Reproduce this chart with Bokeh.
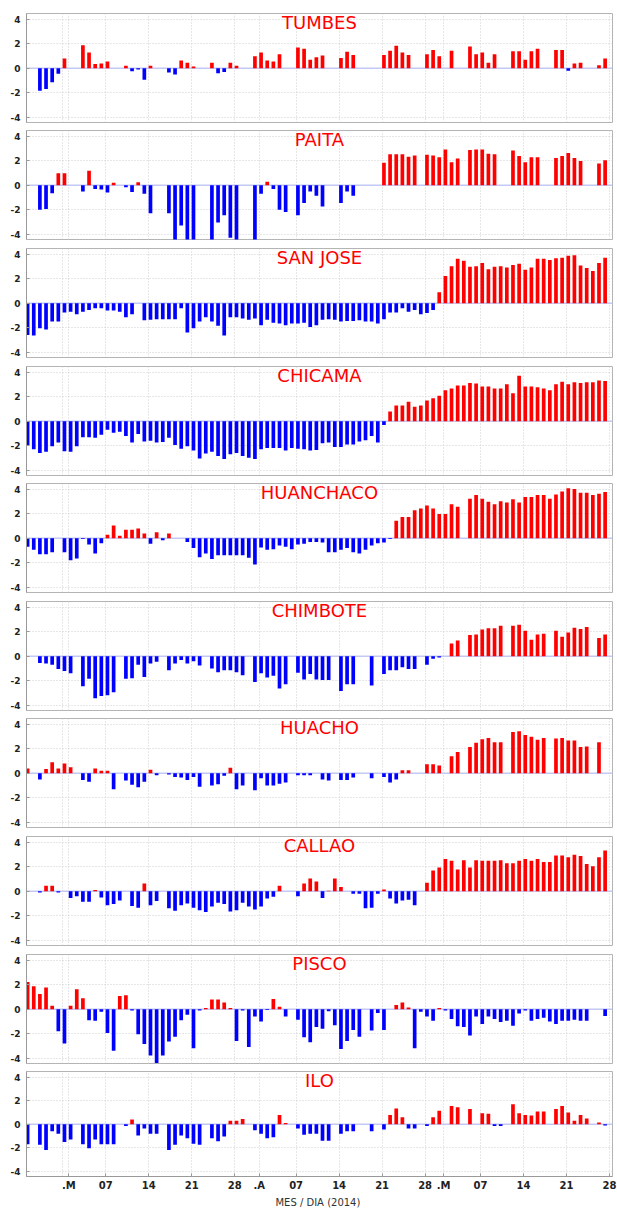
from bokeh.plotting import figure
from bokeh.layouts import column
from bokeh.models import FixedTicker, Span, Label, ColumnDataSource, Range1d
from bokeh.embed import file_html
from bokeh.resources import INLINE

# day offset from 2014-03-01 (Feb 22 .. May 27), one value per day
days = list(range(-7, 88))
N = None

stations = ["TUMBES", "PAITA", "SAN JOSE", "CHICAMA", "HUANCHACO",
            "CHIMBOTE", "HUACHO", "CALLAO", "PISCO", "ILO"]

tumbes = [N, N, -1.85, -1.7, -1.15, -0.45, 0.8, N, N, 1.9,
          1.3, 0.35, 0.4, 0.55, N, N, 0.2, -0.25, -0.1, -0.95,
          0.2, N, N, -0.35, -0.5, 0.65, 0.45, 0.15, N, N,
          0.45, -0.4, -0.3, 0.45, 0.2, N, N, 1.0, 1.3, 0.65,
          0.55, 1.15, N, N, 1.7, 1.6, 0.7, 0.9, 1.05, N,
          N, 0.85, 1.35, 1.1, N, N, N, N, 1.1, 1.45,
          1.85, 1.3, 1.1, N, N, 1.15, 1.5, 1.0, N, 1.45,
          N, N, 1.8, 1.15, 1.3, 0.45, 1.15, N, N, 1.4,
          1.4, 0.7, 1.4, 1.6, N, N, 1.5, 1.5, -0.2, 0.4,
          0.45, N, N, 0.25, 0.8]

paita = [N, N, -2.0, -1.95, -0.65, 1.0, 1.0, N, N, -0.5,
         1.2, -0.3, -0.35, -0.6, 0.2, N, -0.15, -0.55, 0.25, -0.7,
         -2.3, N, N, -2.3, -4.8, -3.3, -4.8, -4.8, N, N,
         -4.8, -3.05, -2.45, -4.3, -4.8, N, N, -4.8, -0.7, 0.3,
         -0.3, -2.0, -2.2, N, -2.45, -1.45, -0.5, -0.85, -1.75, N,
         N, -1.45, -0.5, -0.85, N, N, N, N, 1.85, 2.55,
         2.55, 2.55, 2.35, 2.45, N, 2.5, 2.45, 2.3, 2.95, 1.9,
         2.2, N, 2.9, 2.95, 2.95, 2.6, 2.55, N, N, 2.85,
         2.4, 1.9, 2.3, 2.3, N, N, 2.25, 2.4, 2.65, 2.25,
         2.0, N, N, 1.8, 2.05]

san_jose = [-2.6, -2.65, -2.05, -2.15, -1.5, -1.5, -0.75, -0.7, -0.9, -0.7,
            -0.55, -0.4, -0.4, -0.6, -0.6, -0.7, -1.15, -0.9, N, -1.4,
            -1.35, -1.3, -1.3, -1.3, -1.3, -0.4, -2.4, -2.05, -1.5, -1.15,
            -1.5, -1.85, -2.65, -1.15, -1.15, -1.25, -1.35, -1.25, -1.8, -1.35,
            -1.6, -1.65, -1.8, -1.65, -1.65, -1.6, -1.95, -1.8, -1.35, -1.3,
            -1.35, -1.5, -1.45, -1.45, -1.4, -1.5, -1.5, -1.65, -1.3, -0.75,
            -0.75, -0.4, -0.7, -0.55, -0.9, -0.8, -0.55, 0.9, 2.25, 3.05,
            3.65, 3.5, 3.0, 3.05, 3.3, 2.8, 3.0, 3.05, 2.95, 3.15,
            3.25, 2.75, 2.95, 3.65, 3.65, 3.55, 3.7, 3.75, 3.9, 3.95,
            3.1, 2.9, 2.65, 3.3, 3.75]

chicama = [-1.95, -2.3, -2.6, -2.5, -2.05, -1.75, -2.45, -2.5, -2.05, -1.3,
           -1.3, -1.35, -1.1, -0.7, -0.95, -0.85, -1.2, -1.75, -1.05, -1.65,
           -1.6, -1.75, -1.7, -1.35, -1.95, -2.25, -2.05, -2.4, -3.05, -2.65,
           -2.5, -2.85, -3.1, -2.7, -2.6, -2.85, -3.0, -3.1, -2.3, -2.2,
           -2.2, -2.2, -2.4, -2.2, -2.25, -2.3, -2.4, -2.35, -1.8, -1.75,
           -2.1, -2.1, -1.9, -1.9, -1.65, -1.55, -1.2, -1.75, -0.3, 0.8,
           1.3, 1.3, 1.6, 1.2, 1.3, 1.7, 1.9, 2.1, 2.55, 2.7,
           2.95, 2.95, 3.15, 3.1, 2.85, 2.85, 2.7, 2.7, 3.05, 2.3,
           3.75, 2.85, 2.85, 2.8, 2.7, 2.55, 3.05, 3.25, 3.05, 3.2,
           3.15, 3.2, 3.2, 3.35, 3.3]

huanchaco = [-0.7, -0.95, -1.3, -1.3, -1.15, N, -1.15, -1.8, -1.65, -0.05,
             -0.5, -1.25, -0.4, 0.3, 1.05, 0.2, 0.7, 0.7, 0.8, 0.4,
             -0.45, 0.5, -0.15, 0.4, N, N, -0.3, -0.8, -1.55, -1.25,
             -1.7, -1.4, -1.4, -1.4, -1.4, -1.4, -1.6, -2.15, -0.75, -0.95,
             -0.9, -0.6, -0.7, -0.9, -0.5, -0.45, -0.3, -0.3, -0.35, -1.15,
             -1.15, -0.95, -0.8, -1.15, -1.25, -0.95, -0.6, -0.4, -0.35, -0.05,
             1.45, 1.75, 1.75, 2.3, 2.45, 2.7, 2.45, 2.0, 2.0, 2.8,
             2.6, N, 3.25, 3.55, 3.25, 3.0, 2.8, 3.05, 2.95, 3.2,
             2.95, 3.4, 3.4, 3.55, 3.55, 3.25, 3.6, 3.85, 4.1, 4.05,
             3.75, 3.75, 3.55, 3.65, 3.8]

chimbote = [N, N, -0.55, -0.6, -0.7, -1.05, -1.2, -1.4, N, -2.45,
            -1.85, -3.45, -3.25, -3.2, -2.95, N, -1.85, -1.8, -0.7, -1.7,
            -0.6, -0.45, N, -1.15, -0.6, -0.3, -0.6, -0.4, -0.75, N,
            -1.0, -1.3, -1.15, -1.15, -1.3, -1.55, N, -2.1, -1.4, -1.75,
            -1.6, -2.65, -2.3, N, -1.35, -1.9, -1.45, -1.9, -1.95, -1.95,
            N, -2.85, -2.3, -2.3, N, N, -2.4, N, -1.45, -1.15,
            -1.15, -0.9, -1.05, -1.05, N, -0.7, -0.2, -0.1, N, 1.05,
            1.3, N, 1.75, 1.8, 2.2, 2.3, 2.3, 2.5, N, 2.5,
            2.6, 2.1, 1.35, 1.8, 1.85, N, 2.1, 1.6, 1.95, 2.35,
            2.25, 2.4, N, 1.5, 1.8]

huacho = [0.4, N, -0.5, 0.35, 0.9, 0.4, 0.8, 0.5, N, -0.55,
          -0.7, 0.4, 0.2, 0.2, -1.3, N, -0.6, -0.95, -1.15, -0.7,
          0.3, -0.15, N, -0.1, -0.3, -0.35, -0.55, -0.3, -1.1, N,
          -1.0, -0.9, -0.2, 0.45, -1.3, -1.0, N, -1.4, -0.4, -1.0,
          -1.0, -0.85, -0.75, N, -0.15, -0.15, -0.15, N, -0.5, -0.6,
          N, -0.55, -0.55, -0.35, N, N, -0.4, N, -0.3, -0.75,
          -0.5, 0.25, 0.25, N, N, 0.75, 0.75, 0.65, N, 1.4,
          1.75, N, 2.15, 2.5, 2.8, 2.9, 2.55, 2.55, N, 3.4,
          3.45, 3.15, 3.0, 2.75, 2.9, N, 2.85, 2.9, 2.7, 2.7,
          2.15, 2.2, N, 2.55, N]

callao = [N, N, -0.1, 0.45, 0.45, -0.1, N, -0.55, -0.4, -0.85,
          -0.85, 0.1, -0.5, -1.15, -1.05, -0.75, N, -1.2, -1.35, 0.65,
          -1.15, -0.8, N, -1.4, -1.6, -1.15, -1.0, -1.35, -1.55, -1.7,
          -1.25, -0.95, -1.05, -1.65, -1.55, -0.95, -1.25, -1.5, -1.25, -0.6,
          -0.45, 0.45, N, N, -0.4, 0.65, 1.05, 0.8, -0.55, 0.05,
          1.05, 0.35, N, -0.2, -0.2, -1.4, -1.35, -0.2, 0.15, -0.6,
          -1.0, -0.75, -0.7, -1.15, N, 0.7, 1.7, 1.95, 2.65, 2.5,
          1.8, 2.55, 1.95, 2.55, 2.5, 2.5, 2.5, 2.55, 2.3, 2.3,
          2.5, 2.65, 2.5, 2.65, 2.4, 2.4, 2.95, 2.95, 2.8, 3.0,
          2.9, 2.25, 2.05, 2.8, 3.35]

pisco = [2.25, 1.9, 1.25, 1.8, 0.3, -1.8, -2.8, 0.3, 1.65, 0.9,
         -0.9, -0.95, -0.2, -1.95, -3.4, 1.1, 1.15, -0.1, -2.05, -2.85,
         -3.8, -4.4, -3.8, -2.65, -2.25, -0.9, -0.45, -3.2, -0.1, 0.1,
         0.8, 0.8, 0.55, 0.1, -2.6, -0.1, -3.1, -0.6, -1.0, -0.05,
         0.85, 0.2, -0.6, N, -0.85, -2.3, -2.7, -1.45, -1.6, -0.15,
         -1.3, -3.25, -2.6, -1.7, -2.25, N, -1.75, -0.3, -1.7, N,
         0.35, 0.55, 0.15, -3.2, -0.2, -0.6, -0.95, 0.1, -0.1, -0.8,
         -1.4, -1.45, -2.15, -0.6, -1.2, -0.6, -0.8, -1.05, -0.95, -1.35,
         -0.35, -0.1, -0.95, -0.8, -0.7, -1.0, -1.2, -0.95, -0.95, -0.85,
         -0.95, -0.95, N, N, -0.55]

ilo = [-1.7, N, -1.75, -2.2, -0.6, -0.8, -1.5, -1.3, N, -1.7,
       -2.05, -1.3, -1.7, -1.7, -1.7, N, -0.15, 0.4, -0.95, -0.35,
       -0.8, -0.8, N, -2.2, -1.75, -0.95, -1.2, -1.65, -1.75, N,
       -1.2, -1.45, -1.05, 0.3, 0.3, 0.45, N, -0.5, -0.8, -1.2,
       -1.1, 0.8, 0.1, N, -0.35, -0.9, -0.8, -0.8, -1.4, -1.4,
       N, -0.8, -0.6, -0.6, N, N, -0.6, N, -0.45, 0.8,
       1.35, 0.6, -0.35, -0.35, N, -0.15, 0.6, 1.15, N, 1.55,
       1.45, N, 1.3, N, 0.95, 0.9, -0.15, -0.15, N, 1.7,
       0.95, 0.8, 0.75, 1.1, 1.1, N, 1.3, 1.55, 1.0, 0.3,
       0.8, 0.5, N, 0.15, -0.1]

series = [tumbes, paita, san_jose, chicama, huanchaco,
          chimbote, huacho, callao, pisco, ilo]

tick_days = [0, 6, 13, 20, 27, 31, 37, 44, 51, 58, 61, 67, 74, 81, 88]
tick_labels = [".M", "07", "14", "21", "28", ".A", "07", "14", "21", "28",
               ".M", "07", "14", "21", "28"]
grid_days = [-1] + tick_days
y_ticks = [-4, -2, 0, 2, 4]
y_tick_labels = ["-4", "-2", "0", "2", "4"]
x_label = "MES / DIA  (2014)"

for s in series:
    assert len(s) == len(days), len(s)

POS = "#ff0000"
NEG = "#0000ff"
BAR_OFFSET = 0.3
BAR_W = 0.6

# figure heights; frame height 109 px
heights = [126, 118, 118, 117, 118, 117, 118, 118, 117, 143]
frame_h = 109
figs = []
for k, (name, vals) in enumerate(zip(stations, series)):
    last = (k == len(stations) - 1)
    bt = 13 if k == 0 else 4
    bb = heights[k] - bt - frame_h
    p = figure(width=617, height=heights[k],
               x_range=Range1d(-6.88, 88.5), y_range=Range1d(-4.45, 4.5),
               output_backend="svg", toolbar_location=None, title=None,
               min_border_left=26, min_border_right=5,
               min_border_top=bt, min_border_bottom=bb)
    p.background_fill_color = "white"
    p.border_fill_color = "white"
    p.outline_line_color = "#b4b4b4"

    # grids
    p.xgrid.ticker = FixedTicker(ticks=grid_days)
    p.ygrid.ticker = FixedTicker(ticks=[t for t in y_ticks if t != 0])
    for g in (p.xgrid, p.ygrid):
        g.grid_line_color = "#cfcfcf"
        g.grid_line_dash = "1 2"
        g.grid_line_width = 1

    # y axis
    p.yaxis.ticker = FixedTicker(ticks=y_ticks)
    p.yaxis.major_label_overrides = dict(zip(y_ticks, y_tick_labels))
    p.yaxis.major_label_text_font = "DejaVu Sans"
    p.yaxis.major_label_text_font_style = "bold"
    p.yaxis.major_label_text_font_size = "9px"
    p.yaxis.major_label_text_color = "#222222"
    p.yaxis.major_label_standoff = 6
    p.yaxis.major_tick_in = 3
    p.yaxis.major_tick_out = 0
    p.yaxis.major_tick_line_color = "#999999"
    p.yaxis.axis_line_color = "#999999"

    # x axis
    if last:
        p.xaxis.ticker = FixedTicker(ticks=tick_days)
        p.xaxis.major_label_overrides = dict(zip(tick_days, tick_labels))
        p.xaxis.major_label_text_font = "DejaVu Sans"
        p.xaxis.major_label_text_font_style = "bold"
        p.xaxis.major_label_text_font_size = "10px"
        p.xaxis.major_label_text_color = "#222222"
        p.xaxis.major_label_standoff = 3
        p.xaxis.major_tick_in = 3
        p.xaxis.major_tick_out = 0
        p.xaxis.major_tick_line_color = "#999999"
        p.xaxis.axis_line_color = "#999999"
        p.xaxis.axis_label = x_label
        p.xaxis.axis_label_text_font = "DejaVu Sans"
        p.xaxis.axis_label_text_font_style = "normal"
        p.xaxis.axis_label_text_font_size = "10px"
        p.xaxis.axis_label_text_color = "#333333"
        p.xaxis.axis_label_standoff = 3
    else:
        p.xaxis.visible = False

    # zero line
    p.add_layout(Span(location=0, dimension="width", line_color="#c3c8f4",
                      line_width=1.6, level="underlay"))

    pos_x = [d + BAR_OFFSET for d, v in zip(days, vals) if v is not None and v >= 0]
    pos_v = [v for v in vals if v is not None and v >= 0]
    neg_x = [d + BAR_OFFSET for d, v in zip(days, vals) if v is not None and v < 0]
    neg_v = [v for v in vals if v is not None and v < 0]
    p.vbar(x="x", top="top", bottom=0, width=BAR_W, fill_color=POS, line_color=None,
           source=ColumnDataSource(dict(x=pos_x, top=pos_v)))
    p.vbar(x="x", top="top", bottom=0, width=BAR_W, fill_color=NEG, line_color=None,
           source=ColumnDataSource(dict(x=neg_x, top=neg_v)))

    p.add_layout(Label(x=40.8, y=3.75, text=name, text_align="center",
                       text_baseline="middle", text_color="#ff0000",
                       text_font="DejaVu Sans", text_font_size="18px"))
    figs.append(p)

layout = column(*figs, spacing=0)
open("out.html", "w").write(file_html(layout, INLINE))
